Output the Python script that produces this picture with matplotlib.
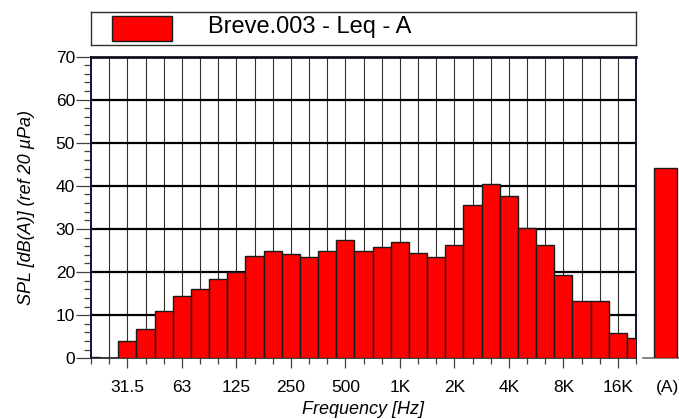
import matplotlib
matplotlib.use("Agg")
import matplotlib.pyplot as plt
import numpy as np
from matplotlib.patches import Rectangle

plt.rcParams["font.family"] = ["Liberation Sans", "DejaVu Sans"]

# 1/3-octave band levels, 20 Hz .. 20 kHz
bands = ["20", "25", "31.5", "40", "50", "63", "80", "100", "125", "160",
         "200", "250", "315", "400", "500", "630", "800", "1K", "1.25K", "1.6K",
         "2K", "2.5K", "3.15K", "4K", "5K", "6.3K", "8K", "10K", "12.5K", "16K", "20K"]
levels = [0.3, 0.0, 3.9, 6.9, 10.9, 14.4, 16.0, 18.5, 20.0, 23.8,
          25.0, 24.2, 23.6, 24.9, 27.4, 24.8, 25.8, 26.9, 24.4, 23.5,
          26.2, 35.5, 40.5, 37.6, 30.3, 26.2, 19.4, 13.3, 13.2, 5.8, 4.6]
octave_labels = ["31.5", "63", "125", "250", "500", "1K", "2K", "4K", "8K", "16K"]
total_label = "(A)"
total_level = 44.2
series_name = "Breve.003 - Leq - A"

W, H = 679, 419
fig = plt.figure(figsize=(W / 100, H / 100), dpi=100)


def box(x0, y0, x1, y1):
    return [x0 / W, 1 - y1 / H, (x1 - x0) / W, (y1 - y0) / H]


red = "#ff0000"
navy = "#101040"
tick_fs = 12.5
label_fs = 13

ax = fig.add_axes(box(91, 56.5, 636, 358.3))
x = np.arange(len(levels))
ax.bar(x, levels, width=1.0, color=red, edgecolor="#1a1a1a", linewidth=1.0, zorder=3)
ax.set_xlim(0, len(levels) - 1)
ax.set_ylim(0, 70)

# vertical lines at every band, heavy horizontal lines every 10 dB
for xi in x[1:-1]:
    ax.axvline(xi, color="#303030", lw=0.8, zorder=1)
for yv in range(10, 70, 10):
    ax.axhline(yv, color="black", lw=1.6, zorder=1)

major_idx = [bands.index(b) for b in octave_labels]
ax.set_xticks(major_idx)
ax.set_xticklabels(octave_labels)
ax.set_xticks([i for i in x if i not in major_idx], minor=True)
ax.set_yticks(range(0, 71, 10))
ax.set_yticks(range(0, 71, 2), minor=True)
ax.tick_params(axis="x", which="major", length=7.2, width=0.9, color="#404040",
               labelsize=tick_fs, pad=8.5)
ax.tick_params(axis="x", which="minor", length=4.5, width=0.9, color="#404040")
ax.tick_params(axis="y", which="major", length=10.8, width=0.9, color="#404040",
               labelsize=tick_fs, pad=0.7)
ax.tick_params(axis="y", which="minor", length=5, width=0.9, color="#404040")

for side in ["left", "right"]:
    ax.spines[side].set_color(navy)
    ax.spines[side].set_linewidth(1.4)
ax.spines["top"].set_color("#101020")
ax.spines["top"].set_linewidth(2.0)
ax.spines["bottom"].set_color("#202020")
ax.spines["bottom"].set_linewidth(1.2)

ax.set_xlabel("Frequency [Hz]", fontsize=label_fs, style="italic", labelpad=4)
ax.set_ylabel("SPL [dB(A)] (ref 20 \u00b5Pa)", fontsize=label_fs, style="italic",
              labelpad=15)

# overall A-weighted level
ax2 = fig.add_axes(box(643, 56.5, 679, 358.3))
ax2.bar([0.63], [total_level], width=0.64, color=red, edgecolor="#1a1a1a",
        linewidth=1.0, zorder=3)
ax2.set_xlim(0, 1)
ax2.set_ylim(0, 70)
for side in ["left", "right", "top"]:
    ax2.spines[side].set_visible(False)
ax2.spines["bottom"].set_color("#707070")
ax2.spines["bottom"].set_linewidth(1.2)
ax2.set_yticks([])
ax2.set_xticks([0.69])
ax2.set_xticklabels([total_label])
ax2.tick_params(axis="x", length=0, labelsize=tick_fs, pad=15.7)

# legend strip
lg = fig.add_axes(box(91, 12, 636, 45))
lg.set_xlim(91, 636)
lg.set_ylim(45, 12)
lg.set_xticks([])
lg.set_yticks([])
for s in lg.spines.values():
    s.set_color("#303030")
    s.set_linewidth(1.0)
lg.add_patch(Rectangle((112, 16), 60, 25.5, facecolor=red, edgecolor="#1a1a1a", lw=1.0))
lg.text(208, 27.5, series_name, fontsize=17, va="center", ha="left")

fig.savefig("out.png", dpi=100)
